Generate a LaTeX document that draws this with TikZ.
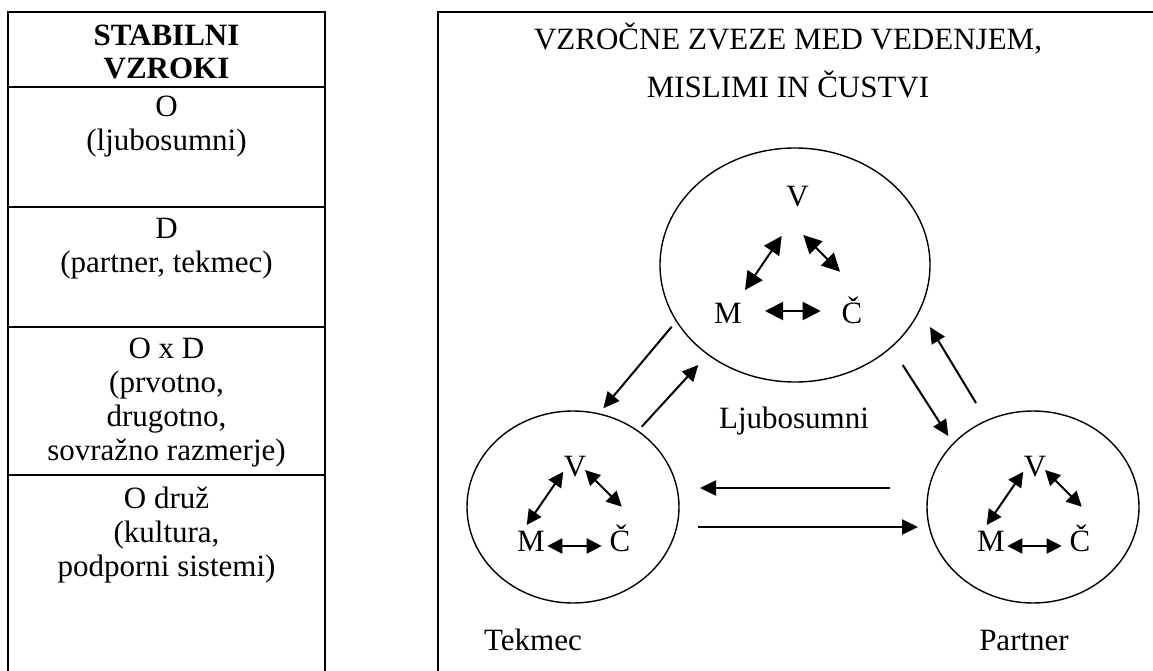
\documentclass[tikz,border=0pt]{standalone}
\usepackage{fontspec}
\setmainfont{Liberation Serif}
\usetikzlibrary{arrows.meta,shapes.geometric}
\begin{document}
\begin{tikzpicture}[x=1pt,y=-1pt,
  frame/.style={line width=1.7pt},
  circ/.style={ellipse, draw, line width=1.4pt, inner sep=0pt},
  lbl/.style={font=\fontsize{31}{34}\selectfont, anchor=base, inner sep=0pt},
  hlbl/.style={lbl, font=\fontsize{31}{34}\selectfont\bfseries},
  conn/.style={line width=2pt, -{Triangle[length=16pt,width=15pt]}},
  dbl/.style={line width=2pt, {Triangle[length=15pt,width=15pt]}-{Triangle[length=15pt,width=15pt]}},
  bigdbl/.style={line width=2pt, {Triangle[length=18pt,width=18pt]}-{Triangle[length=18pt,width=18pt]}}]
\useasboundingbox (0,0) rectangle (1153,671);
\clip (0,0) rectangle (1153,671);
\fill[white] (0,0) rectangle (1153,671);
% left table
\draw[frame] (8,690) -- (8,12) -- (325,12) -- (325,690);
\draw[frame] (8,87) -- (325,87);
\draw[frame] (8,207) -- (325,207);
\draw[frame] (8,327) -- (325,327);
\draw[frame] (8,475) -- (325,475);
\node[hlbl] (h1) at (166.5,46) {STABILNI};
\node[hlbl] (h2) at (166.5,78.5) {VZROKI};
\node[lbl] (o1) at (166.5,116.5) {O};
\node[lbl] (o2) at (166.5,150.5) {(ljubosumni)};
\node[lbl] (d1) at (166.5,238) {D};
\node[lbl] (d2) at (166.5,272) {(partner, tekmec)};
\node[lbl] (x1) at (166.5,358) {O x D};
\node[lbl] (x2) at (166.5,392) {(prvotno,};
\node[lbl] (x3) at (166.5,426) {drugotno,};
\node[lbl] (x4) at (166.5,460) {sovražno razmerje)};
\node[lbl] (s1) at (166.5,508) {O druž};
\node[lbl] (s2) at (166.5,542) {(kultura,};
\node[lbl] (s3) at (166.5,576) {podporni sistemi)};
% right box
\draw[frame] (438,690) -- (438,12) -- (1170,12);
\node[lbl] (t1) at (788,50) {VZROČNE ZVEZE MED VEDENJEM,};
\node[lbl] (t2) at (788,98) {MISLIMI IN ČUSTVI};
% circles
\node[circ, minimum width=270pt, minimum height=234pt] (top) at (795,265) {};
\node[circ, minimum width=212pt, minimum height=192pt] (bl) at (573,507) {};
\node[circ, minimum width=212pt, minimum height=192pt] (br) at (1033,507) {};
% top circle letters
\node[lbl] (tV) at (797.5,207) {V};
\node[lbl] (tM) at (728,323) {M};
\node[lbl] (tC) at (852,323) {Č};
\coordinate (tVM1) at (781.7,236); \coordinate (tVM2) at (745,290);
\coordinate (tVC1) at (803.3,235); \coordinate (tVC2) at (840,271.7);
\coordinate (tMC1) at (765,311); \coordinate (tMC2) at (820.7,311);
\draw[bigdbl] (tVM1) -- (tVM2);
\draw[bigdbl] (tVC1) -- (tVC2);
\draw[bigdbl] (tMC1) -- (tMC2);
% bottom-left letters
\node[lbl] (lV) at (575,476) {V};
\node[lbl] (lM) at (531,551) {M};
\node[lbl] (lC) at (620,551) {Č};
\coordinate (lVM1) at (563.3,471.7); \coordinate (lVM2) at (526.7,525);
\coordinate (lVC1) at (585,470); \coordinate (lVC2) at (621.7,506.7);
\coordinate (lMC1) at (547.3,546); \coordinate (lMC2) at (601.7,546);
\draw[dbl] (lVM1) -- (lVM2);
\draw[dbl] (lVC1) -- (lVC2);
\draw[dbl] (lMC1) -- (lMC2);
% bottom-right letters
\node[lbl] (rV) at (1035,476) {V};
\node[lbl] (rM) at (991,551) {M};
\node[lbl] (rC) at (1080,551) {Č};
\coordinate (rVM1) at (1023.3,471.7); \coordinate (rVM2) at (986.7,525);
\coordinate (rVC1) at (1045,470); \coordinate (rVC2) at (1081.7,506.7);
\coordinate (rMC1) at (1007.3,546); \coordinate (rMC2) at (1061.7,546);
\draw[dbl] (rVM1) -- (rVM2);
\draw[dbl] (rVC1) -- (rVC2);
\draw[dbl] (rMC1) -- (rMC2);
% connectors between circles
\coordinate (a1s) at (671.7,326.7); \coordinate (a1e) at (603.3,408.3);
\coordinate (a2s) at (641.7,426.7); \coordinate (a2e) at (698.3,365);
\coordinate (a3s) at (902.7,365); \coordinate (a3e) at (948.3,436);
\coordinate (a4s) at (976,403); \coordinate (a4e) at (930,327);
\coordinate (a5s) at (890,488); \coordinate (a5e) at (700,488);
\coordinate (a6s) at (698,527); \coordinate (a6e) at (918,527);
\draw[conn] (a1s) -- (a1e);
\draw[conn] (a2s) -- (a2e);
\draw[conn] (a3s) -- (a3e);
\draw[conn] (a4s) -- (a4e);
\draw[conn] (a5s) -- (a5e);
\draw[conn] (a6s) -- (a6e);
% labels
\node[lbl] (lj) at (794,428) {Ljubosumni};
\node[lbl] (tek) at (533,650) {Tekmec};
\node[lbl] (par) at (1024,650) {Partner};
\end{tikzpicture}
\end{document}
